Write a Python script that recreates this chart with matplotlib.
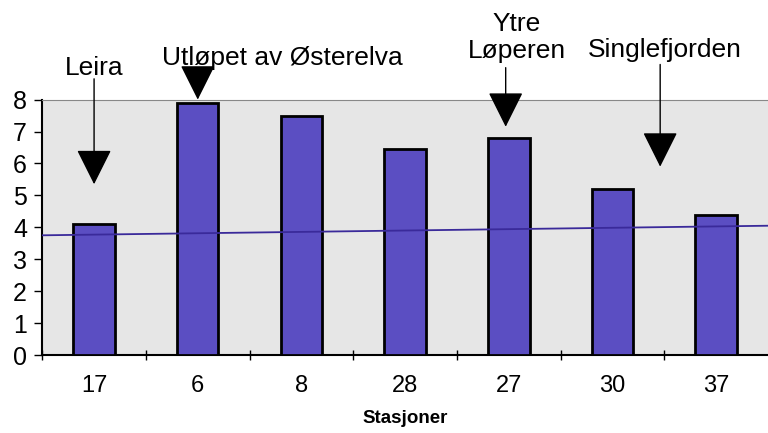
import matplotlib.pyplot as plt
import numpy as np

plt.rcParams['font.family'] = ['Liberation Sans', 'DejaVu Sans']

stasjoner = ['17', '6', '8', '28', '27', '30', '37']
verdier = [4.1, 7.9, 7.5, 6.45, 6.8, 5.2, 4.4]

# reference line (slightly tilted in the scan)
linje_x = [-0.5, 6.5]
linje_y = [3.75, 4.05]

# annotations: label text position, arrow x, arrow start and tip
merker = ['Leira', 'Utløpet av Østerelva', 'Ytre\nLøperen', 'Singlefjorden']
tekst_x = [0, 1.82, 4.08, 5.5]
tekst_y = [9.0, 9.31, 9.94, 9.56]
pil_x = [0, 1.0, 3.97, 5.46]
pil_start = [8.65, 8.7, 9.0, 9.1]
pil_tupp = [5.35, 8.0, 7.15, 5.9]

fig = plt.figure(figsize=(7.68, 4.33), dpi=100)
ax = fig.add_axes([0.055, 0.18, 0.945, 0.59])
ax.set_facecolor('#e6e6e6')

x = np.arange(len(stasjoner))
ax.bar(x, verdier, width=0.4, color='#5b4ec2', edgecolor='black', linewidth=2, zorder=3)
ax.plot(linje_x, linje_y, color='#3a2a9a', lw=1.3, zorder=4)

ax.set_xlim(-0.5, 6.5)
ax.set_ylim(0, 8)
ax.set_yticks(range(9))
ax.set_xticks(x)
ax.set_xticklabels(stasjoner)
ax.set_xticks(np.arange(-0.5, 6.5, 1), minor=True)
ax.tick_params(axis='x', which='major', length=0, labelsize=17, pad=14)
ax.tick_params(axis='x', which='minor', length=7, direction='inout', width=1)
ax.tick_params(axis='y', length=6, labelsize=18, pad=5, width=1)
ax.set_xlabel('Stasjoner', fontsize=13.5, fontweight='bold', labelpad=10)

ax.spines['right'].set_visible(False)
ax.spines['top'].set_color('#888888')
ax.spines['left'].set_linewidth(1.5)
ax.spines['bottom'].set_linewidth(1.5)

for navn, tx, ty in zip(merker, tekst_x, tekst_y):
    ax.text(tx, ty, navn, ha='center', va='center', fontsize=19,
            linespacing=1.15, clip_on=False)

for px, p0, p1 in zip(pil_x, pil_start, pil_tupp):
    ax.annotate('', xy=(px, p1), xytext=(px, p0), annotation_clip=False,
                arrowprops=dict(arrowstyle='-|>,head_length=1.6,head_width=0.8',
                                color='black', lw=1, shrinkA=0, shrinkB=0,
                                mutation_scale=14))

fig.savefig('out.png', dpi=100)
